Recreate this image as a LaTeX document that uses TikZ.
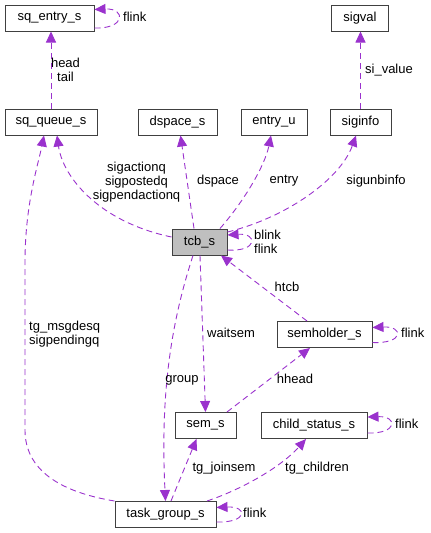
\documentclass[tikz,border=0pt]{standalone}
\usepackage{fontspec}
\setmainfont{Liberation Sans}
\usetikzlibrary{arrows.meta}
\definecolor{edgec}{HTML}{9A32CD}
\definecolor{boxc}{HTML}{404040}
\definecolor{tcbfill}{HTML}{BFBFBF}
\begin{document}
\begin{tikzpicture}[x=1pt,y=-1pt,
  every node/.style={font=\fontsize{13}{14}\selectfont},
  box/.style={draw=boxc, line width=1pt, fill=white, minimum height=26pt, inner sep=0pt},
  edge/.style={draw=edgec, line width=0.9pt, dash pattern=on 6pt off 4pt, -{Triangle[length=11pt,width=10pt,fill=edgec]}},
  lbl/.style={inner sep=0pt, align=center},
  lbll/.style={inner sep=0pt, align=left, anchor=west}]
\useasboundingbox (0,0) rectangle (431,533);
% nodes
\node[box, minimum width=89pt] (sqe) at (49.5,18) {sq\_entry\_s};
\node[box, minimum width=57pt] (sgv) at (360,18) {sigval};
\node[box, minimum width=92pt] (sqq) at (51,122) {sq\_queue\_s};
\node[box, minimum width=79pt] (dsp) at (177.5,122) {dspace\_s};
\node[box, minimum width=66pt] (ent) at (274,122) {entry\_u};
\node[box, minimum width=61pt] (sgi) at (360.5,122) {siginfo};
\node[box, minimum width=55pt, fill=tcbfill] (tcb) at (199.5,242) {tcb\_s};
\node[box, minimum width=95pt] (smh) at (324.5,334.5) {semholder\_s};
\node[box, minimum width=61pt] (sem) at (205.5,425.5) {sem\_s};
\node[box, minimum width=106pt] (chs) at (314,425.5) {child\_status\_s};
\node[box, minimum width=101pt] (tg) at (165.5,514.5) {task\_group\_s};
% edges
\draw[edge] ([yshift=-10pt]sqe.east) .. controls (126,29) and (126,8) .. ([yshift=8.5pt]sqe.east);
\draw[edge] (sqq.north) -- (sqq.north |- sqe.south);
\draw[edge] (sgi.north) -- (sgi.north |- sgv.south);
\draw[edge] ([yshift=5pt]tcb.west) .. controls (100,222) and (63,178) .. ([xshift=6pt]sqq.south);
\draw[edge] (tg.north west) .. controls (60,492) and (25,470) .. (25,430) -- (25,262) .. controls (25,205) and (38,165) .. ([xshift=-7pt]sqq.south);
\draw[edge] ([xshift=-5.5pt]tcb.north) -- ([xshift=3pt]dsp.south);
\draw[edge] ([xshift=20.5pt]tcb.north) .. controls (245,200) and (265,165) .. ([xshift=-3pt]ent.south);
\draw[edge] ([yshift=10pt]tcb.east) .. controls (285,218) and (340,180) .. ([xshift=-4.5pt]sgi.south);
\draw[edge] ([yshift=-8pt]tcb.east) .. controls (258,252) and (258,233) .. ([yshift=7pt]tcb.east);
\draw[edge] ([xshift=-17.5pt]smh.north) -- ([xshift=21.5pt]tcb.south);
\draw[edge] ([xshift=0.5pt]tcb.south) -- (sem.north);
\draw[edge] ([xshift=-6.5pt]tcb.south) .. controls (172,320) and (160,390) .. (tg.north);
\draw[edge] ([xshift=21.5pt]sem.north) -- ([xshift=-14.5pt]smh.south);
\draw[edge] ([yshift=-8pt]smh.east) .. controls (404,344) and (404,326) .. ([yshift=7pt]smh.east);
\draw[edge] ([xshift=5.5pt]tg.north) -- ([xshift=-9pt]sem.south);
\draw[edge] ([xshift=41.5pt]tg.north) .. controls (240,490) and (280,468) .. ([xshift=-8pt]chs.south);
\draw[edge] ([yshift=-7.5pt]chs.east) .. controls (398,434) and (398,416) .. ([yshift=8.5pt]chs.east);
\draw[edge] ([yshift=-7.5pt]tg.east) .. controls (248,523) and (248,506) .. ([yshift=7pt]tg.east);
% labels
\node[lbll] (l1) at (123,17) {flink};
\node[lbl] (l2) at (65.5,70) {head\\tail};
\node[lbl] (l3) at (389,70) {si\_value};
\node[lbl] (l4) at (136.5,182) {sigactionq\\sigpostedq\\sigpendactionq};
\node[lbll] (l5) at (29,334) {tg\_msgdesq\\sigpendingq};
\node[lbl] (l6) at (218,181) {dspace};
\node[lbl] (l7) at (284,181) {entry};
\node[lbl] (l8) at (376,181) {sigunbinfo};
\node[lbll] (l9) at (254,241.5) {blink\\flink};
\node[lbl] (l10) at (287,287) {htcb};
\node[lbl] (l11) at (231,333) {waitsem};
\node[lbl] (l12) at (182,380) {group};
\node[lbl] (l13) at (295,379) {hhead};
\node[lbll] (l14) at (401,333) {flink};
\node[lbl] (l15) at (224,468) {tg\_joinsem};
\node[lbl] (l16) at (317,468) {tg\_children};
\node[lbll] (l17) at (395,424) {flink};
\node[lbll] (l18) at (243,513) {flink};
\end{tikzpicture}
\end{document}
